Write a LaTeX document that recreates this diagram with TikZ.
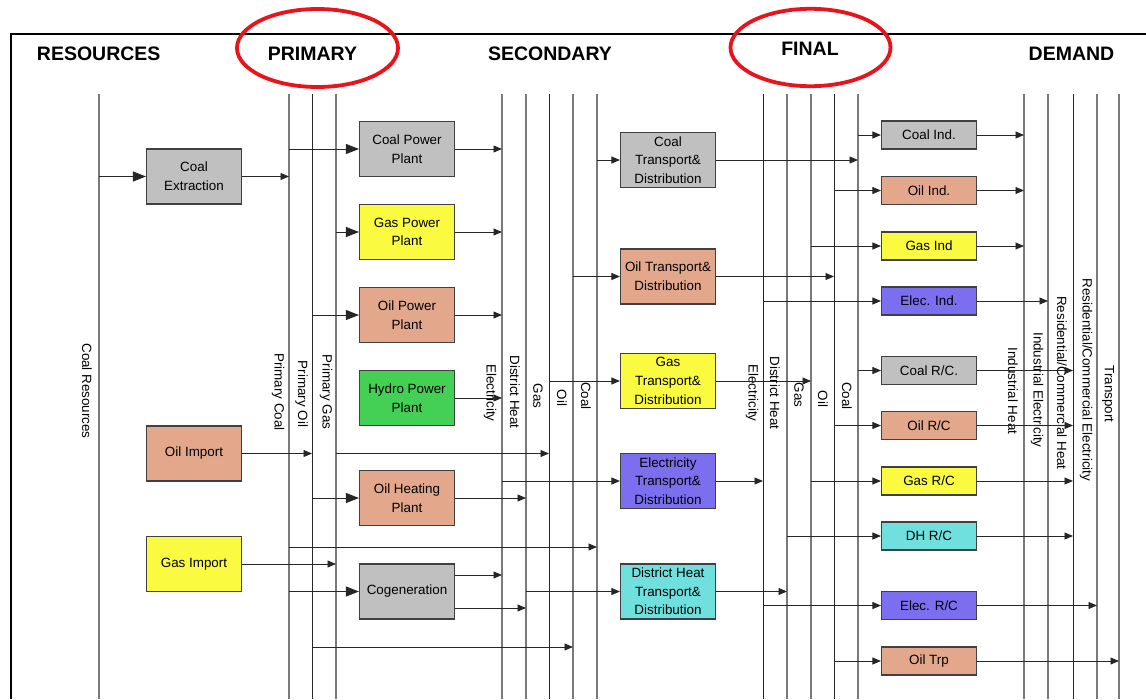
\documentclass[tikz,border=0pt]{standalone}
\usepackage{fontspec}
\setmainfont{Liberation Sans}
\usepackage{tikz}
\usetikzlibrary{arrows.meta, calc, positioning}
\definecolor{boxgray}{HTML}{C0C0C0}
\definecolor{boxoil}{HTML}{E3A88C}
\definecolor{boxgas}{HTML}{FAFA40}
\definecolor{boxhydro}{HTML}{44D055}
\definecolor{boxelec}{HTML}{7B6FF0}
\definecolor{boxdh}{HTML}{6FE0DE}
\definecolor{ringred}{HTML}{E8141C}
\definecolor{busgray}{HTML}{7A7A7A}
\tikzset{
  proc/.style={draw=black!75, line width=1.1pt, minimum width=95pt, minimum height=55pt,
    align=center, inner sep=1pt, font=\fontsize{13.4}{18.7}\selectfont},
  sect/.style={proc, minimum height=28pt},
  bus/.style={busgray, line width=1.2pt},
  busdark/.style={black!85, line width=0.9pt},
  buslab/.style={rotate=-90, inner sep=0pt, font=\fontsize{13.4}{16}\selectfont},
  flow/.style={black!85, line width=0.9pt, -{Triangle[length=8.5pt,width=7pt]}},
  feed/.style={black!85, line width=0.9pt, -{Triangle[length=13pt,width=10pt]}},
  heading/.style={font=\fontsize{19.5}{22}\selectfont\bfseries},
}

\begin{document}
\begin{tikzpicture}[x=1pt,y=-1pt]
	\useasboundingbox (0,0) rectangle (1146,699);
	\draw [line width=1.6pt] (11,699) -- (11,34) -- (1146,34);
	% stage headings
	\node[heading] (hres) at (98.7,54) {RESOURCES};
	\node[heading] (hprim) at (312.5,54) {PRIMARY};
	\node[heading] (hsec) at (550,54) {SECONDARY};
	\node[heading] (hfin) at (810,49) {FINAL};
	\node[heading] (hdem) at (1071.5,54) {DEMAND};
	\draw [ringred, line width=3.8pt] (317.5,48) ellipse [x radius=80.5, y radius=39];
	\draw [ringred, line width=3.8pt] (810.5,47.5) ellipse [x radius=80, y radius=38.7];

	% energy carrier buses
	\coordinate (cres) at (99,94);
	\coordinate (pcoal) at (289,94);
	\coordinate (poil) at (312,94);
	\coordinate (pgas) at (336,94);
	\coordinate (selec) at (502,94);
	\coordinate (sdh) at (526,94);
	\coordinate (sgas) at (549,94);
	\coordinate (soil) at (573,94);
	\coordinate (scoal) at (597,94);
	\coordinate (felec) at (763,94);
	\coordinate (fdh) at (787,94);
	\coordinate (fgas) at (811,94);
	\coordinate (foil) at (834,94);
	\coordinate (fcoal) at (858,94);
	\coordinate (dih) at (1024,94);
	\coordinate (die) at (1048,94);
	\coordinate (drch) at (1073,94);
	\coordinate (drce) at (1097,94);
	\coordinate (dtrp) at (1119,94);
	\draw [bus] (cres) -- (cres |- 0,699);
	\draw [bus] (pcoal) -- (pcoal |- 0,699);
	\draw [busdark] (poil) -- (poil |- 0,699);
	\draw [bus] (pgas) -- (pgas |- 0,699);
	\draw [bus] (selec) -- (selec |- 0,699);
	\draw [bus] (sdh) -- (sdh |- 0,699);
	\draw [busdark] (sgas) -- (sgas |- 0,699);
	\draw [bus] (soil) -- (soil |- 0,699);
	\draw [bus] (scoal) -- (scoal |- 0,699);
	\draw [busdark] (felec) -- (felec |- 0,699);
	\draw [bus] (fdh) -- (fdh |- 0,699);
	\draw [bus] (fgas) -- (fgas |- 0,699);
	\draw [busdark] (foil) -- (foil |- 0,699);
	\draw [bus] (fcoal) -- (fcoal |- 0,699);
	\draw [bus] (dih) -- (dih |- 0,699);
	\draw [bus] (die) -- (die |- 0,699);
	\draw [busdark] (drch) -- (drch |- 0,699);
	\draw [bus] (drce) -- (drce |- 0,699);
	\draw [bus] (dtrp) -- (dtrp |- 0,699);
	\node[buslab] (lcres) at (87,391) {Coal Resources};
	\node[buslab] (lpcoal) at (278,392) {Primary Coal};
	\node[buslab] (lpoil) at (301.5,394) {Primary Oil};
	\node[buslab] (lpgas) at (326,392) {Primary Gas};
	\node[buslab] (lselec) at (490,393) {Electricity};
	\node[buslab] (lsdh) at (515,392) {District Heat};
	\node[buslab] (lsgas) at (538,396) {Gas};
	\node[buslab] (lsoil) at (562,398) {Oil};
	\node[buslab] (lscoal) at (586,396) {Coal};
	\node[buslab] (lfelec) at (752,393) {Electricity};
	\node[buslab] (lfdh) at (775,393) {District Heat};
	\node[buslab] (lfgas) at (799,395) {Gas};
	\node[buslab] (lfoil) at (823,399) {Oil};
	\node[buslab] (lfcoal) at (847,396) {Coal};
	\node[buslab] (ldih) at (1013,391) {Industrial Heat};
	\node[buslab] (ldie) at (1037,390) {Industrial Electricity};
	\node[buslab] (ldrch) at (1062,383) {Residential/Commercial Heat};
	\node[buslab] (ldrce) at (1086,380) {Residential/Commercial Electricity};
	\node[buslab] (ldtrp) at (1108,394) {Transport};

	% processes
	\node[proc, fill=boxgray] (coalext) at (194,176.5) {Coal\\Extraction};
	\node[proc, fill=boxoil] (oilimp) at (194,453.5) {Oil Import};
	\node[proc, fill=boxgas] (gasimp) at (194,564) {Gas Import};
	\node[proc, fill=boxgray] (coalpp) at (407,149) {Coal Power\\Plant};
	\node[proc, fill=boxgas] (gaspp) at (407,232) {Gas Power\\Plant};
	\node[proc, fill=boxoil] (oilpp) at (407,315) {Oil Power\\Plant};
	\node[proc, fill=boxhydro] (hydro) at (407,398) {Hydro Power\\Plant};
	\node[proc, fill=boxoil] (oilhp) at (407,498) {Oil Heating\\Plant};
	\node[proc, fill=boxgray] (cogen) at (407,591.5) {Cogeneration};
	\node[proc, fill=boxgray] (coaltd) at (668,160) {Coal\\Transport\&\\Distribution};
	\node[proc, fill=boxoil] (oiltd) at (668,276.5) {Oil Transport\&\\Distribution};
	\node[proc, fill=boxgas] (gastd) at (668,381) {Gas\\Transport\&\\Distribution};
	\node[proc, fill=boxelec] (electd) at (668,481) {Electricity\\Transport\&\\Distribution};
	\node[proc, fill=boxdh] (dhtd) at (668,591.5) {District Heat\\Transport\&\\Distribution};
	\node[sect, fill=boxgray] (coalind) at (929,135) {Coal Ind.};
	\node[sect, fill=boxoil] (oilind) at (929,190.5) {Oil Ind.};
	\node[sect, fill=boxgas] (gasind) at (929,246) {Gas Ind};
	\node[sect, fill=boxelec] (elecind) at (929,301) {Elec. Ind.};
	\node[sect, fill=boxgray] (coalrc) at (929,370.5) {Coal R/C.};
	\node[sect, fill=boxoil] (oilrc) at (929,425.5) {Oil R/C};
	\node[sect, fill=boxgas] (gasrc) at (929,481) {Gas R/C};
	\node[sect, fill=boxdh] (dhrc) at (929,536) {DH R/C};
	\node[sect, fill=boxelec] (elecrc) at (929,605.5) {Elec. R/C};
	\node[sect, fill=boxoil] (oiltrp) at (929,661) {Oil Trp};

	% resources -> primary
	\draw [feed] (cres |- coalext) -- (coalext);
	\draw [flow] (coalext) -- (pcoal |- coalext);
	\draw [flow] (oilimp) -- (poil |- oilimp);
	\draw [flow] (gasimp) -- (pgas |- gasimp);
	% primary -> secondary
	\draw [feed] (pcoal |- coalpp) -- (coalpp);
	\draw [feed] (pgas |- gaspp) -- (gaspp);
	\draw [feed] (poil |- oilpp) -- (oilpp);
	\draw [feed] (poil |- oilhp) -- (oilhp);
	\draw [feed] (pcoal |- cogen) -- (cogen);
	\draw [flow] (pgas |- oilimp) -- (sgas |- oilimp);
	\draw [flow] (pcoal |- 0,547) -- (scoal |- 0,547);
	\draw [flow] (poil |- 0,647) -- (soil |- 0,647);
	\draw [flow] (coalpp) -- (selec |- coalpp);
	\draw [flow] (gaspp) -- (selec |- gaspp);
	\draw [flow] (oilpp) -- (selec |- oilpp);
	\draw [flow] (hydro) -- (selec |- hydro);
	\draw [flow] (oilhp) -- (sdh |- oilhp);
	\draw [flow] (cogen.east |- 0,575) -- (selec |- 0,575);
	\draw [flow] (cogen.east |- 0,608) -- (sdh |- 0,608);
	% secondary -> final
	\draw [flow] (scoal |- coaltd) -- (coaltd);
	\draw [flow] (soil |- oiltd) -- (oiltd);
	\draw [flow] (sgas |- gastd) -- (gastd);
	\draw [flow] (selec |- electd) -- (electd);
	\draw [flow] (sdh |- dhtd) -- (dhtd);
	\draw [flow] (coaltd) -- (fcoal |- coaltd);
	\draw [flow] (oiltd) -- (foil |- oiltd);
	\draw [flow] (gastd) -- (fgas |- gastd);
	\draw [flow] (electd) -- (felec |- electd);
	\draw [flow] (dhtd) -- (fdh |- dhtd);
	% final -> demand
	\draw [flow] (fcoal |- coalind) -- (coalind);
	\draw [flow] (foil |- oilind) -- (oilind);
	\draw [flow] (fgas |- gasind) -- (gasind);
	\draw [flow] (felec |- elecind) -- (elecind);
	\draw [flow] (fcoal |- coalrc) -- (coalrc);
	\draw [flow] (foil |- oilrc) -- (oilrc);
	\draw [flow] (fgas |- gasrc) -- (gasrc);
	\draw [flow] (fdh |- dhrc) -- (dhrc);
	\draw [flow] (felec |- elecrc) -- (elecrc);
	\draw [flow] (foil |- oiltrp) -- (oiltrp);
	\draw [flow] (coalind) -- (dih |- coalind);
	\draw [flow] (oilind) -- (dih |- oilind);
	\draw [flow] (gasind) -- (dih |- gasind);
	\draw [flow] (elecind) -- (die |- elecind);
	\draw [flow] (coalrc) -- (drch |- coalrc);
	\draw [flow] (oilrc) -- (drch |- oilrc);
	\draw [flow] (gasrc) -- (drch |- gasrc);
	\draw [flow] (dhrc) -- (drch |- dhrc);
	\draw [flow] (elecrc) -- (drce |- elecrc);
	\draw [flow] (oiltrp) -- (dtrp |- oiltrp);
\end{tikzpicture}
\end{document}
